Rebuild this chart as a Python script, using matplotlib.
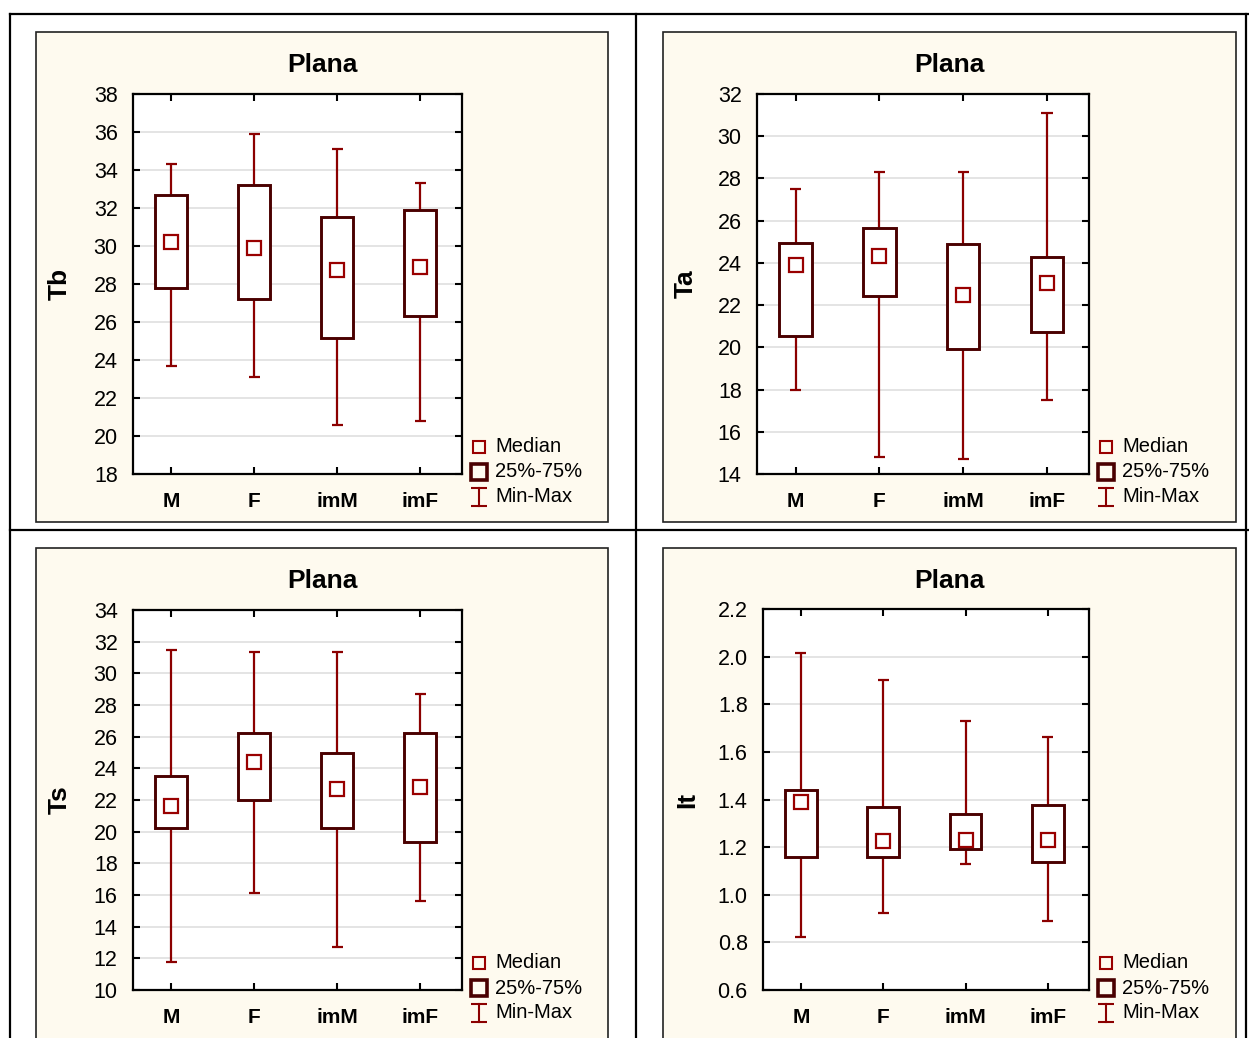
import matplotlib
matplotlib.use('Agg')
import matplotlib.pyplot as plt
from matplotlib.patches import Rectangle
from matplotlib.lines import Line2D

plt.rcParams['font.family'] = ['Liberation Sans', 'DejaVu Sans']

W, H = 1249, 1038

cats = ['M', 'F', 'imM', 'imF']

# Tb
tb_min = [23.7, 23.1, 20.6, 20.8]
tb_q1 = [27.8, 27.2, 25.15, 26.33]
tb_med = [30.2, 29.88, 28.72, 28.88]
tb_q3 = [32.67, 33.2, 31.53, 31.88]
tb_max = [34.3, 35.9, 35.1, 33.3]

# Ta
ta_min = [18.0, 14.8, 14.7, 17.5]
ta_q1 = [20.54, 22.45, 19.94, 20.74]
ta_med = [23.88, 24.34, 22.49, 23.05]
ta_q3 = [24.94, 25.67, 24.9, 24.28]
ta_max = [27.5, 28.3, 28.3, 31.1]

# Ts
ts_min = [11.76, 16.1, 12.69, 15.6]
ts_q1 = [20.23, 22.0, 20.23, 19.32]
ts_med = [21.64, 24.4, 22.69, 22.8]
ts_q3 = [23.51, 26.21, 24.95, 26.21]
ts_max = [31.47, 31.37, 31.37, 28.67]

# It
it_min = [0.824, 0.922, 1.128, 0.89]
it_q1 = [1.16, 1.16, 1.193, 1.139]
it_med = [1.389, 1.226, 1.232, 1.232]
it_q3 = [1.44, 1.368, 1.339, 1.377]
it_max = [2.014, 1.90, 1.731, 1.664]

BOX_EDGE = '#4a0000'
WHISK = '#8b0000'
MED = '#990000'
CREAM = '#fefaef'


def fx(px):
    return px / W


def fy(py):
    return 1 - py / H


fig = plt.figure(figsize=(W / 100, H / 100), dpi=100)

# table grid of the document
for x in (10, 636, 1246):
    fig.add_artist(Line2D([fx(x)] * 2, [fy(14), 0], color='black', lw=1.6))
for y in (14, 530):
    fig.add_artist(Line2D([fx(10), 1], [fy(y)] * 2, color='black', lw=1.6))


def draw_panel(panel, axbox, label_dx, ylabel, ylim, yticks, fmt, mins, q1, med, q3, maxs):
    x0, y0, x1, y1 = panel
    fig.add_artist(Rectangle((fx(x0), fy(y1)), fx(x1) - fx(x0), fy(y0) - fy(y1),
                             transform=fig.transFigure, facecolor=CREAM,
                             edgecolor='#222222', lw=1.2, zorder=0))
    fig.text(fx((x0 + x1) / 2), fy(y0 + 33), 'Plana', ha='center', va='center',
             fontsize=19, fontweight='bold')

    a0, b0, a1, b1 = axbox
    w = a1 - a0
    h = b1 - b0
    ax = fig.add_axes([fx(a0), fy(b1), fx(a1) - fx(a0), fy(b0) - fy(b1)])
    ax.set_facecolor('white')
    pos = list(range(len(cats)))

    ax.vlines(pos, mins, maxs, color=WHISK, lw=1.6, zorder=2)
    ax.hlines(mins, [p - 0.068 for p in pos], [p + 0.068 for p in pos], color=WHISK, lw=1.6, zorder=2)
    ax.hlines(maxs, [p - 0.068 for p in pos], [p + 0.068 for p in pos], color=WHISK, lw=1.6, zorder=2)
    ax.bar(pos, [b - a for a, b in zip(q1, q3)], bottom=q1, width=0.385,
           facecolor='white', edgecolor=BOX_EDGE, lw=2.1, zorder=3)
    ax.plot(pos, med, 's', ms=9.5, mfc='white', mec=MED, mew=1.6, ls='none', zorder=4)

    ax.set_xlim(-0.46, 3.5)
    ax.set_ylim(*ylim)
    ax.set_yticks(yticks)
    ax.set_yticklabels([fmt.format(t) for t in yticks])
    ax.set_xticks(pos)
    ax.set_xticklabels(cats, fontweight='bold', fontsize=15)
    ax.grid(axis='y', color='#e2e2e2', lw=1.3, zorder=0)
    ax.set_axisbelow(True)
    ax.tick_params(direction='in', length=5, width=1.5, top=True, right=True, labelsize=15.5, pad=11)
    ax.tick_params(axis='x', labelsize=15, pad=13)
    for s in ax.spines.values():
        s.set_linewidth(1.6)
        s.set_color('black')
    ax.set_ylabel(ylabel, fontsize=19, fontweight='bold')
    ax.yaxis.set_label_coords(label_dx / w, 0.5)

    # legend, rows placed in pixels relative to the bottom spine
    mx = 1 + 17 / w
    tx = 1 + 33 / w
    kw = dict(transform=ax.transAxes, clip_on=False)
    r1, r2, r3 = 27 / h, 2 / h, -23 / h
    ax.plot([mx], [r1], 's', ms=8.5, mfc='none', mec=MED, mew=1.5, **kw)
    ax.plot([mx], [r2], 's', ms=11.5, mfc='none', mec=BOX_EDGE, mew=2.6, **kw)
    ax.plot([mx, mx], [r3 + 9 / h, r3 - 9 / h], color=WHISK, lw=1.5, marker='_', ms=11, mew=1.5, **kw)
    for yy, txt in ((r1, 'Median'), (r2, '25%-75%'), (r3, 'Min-Max')):
        ax.text(tx, yy, txt, fontsize=14.5, va='center', ha='left', **kw)
    return ax


draw_panel((36, 32, 608, 522), (133, 94, 462, 474), -61, 'Tb', (18, 38),
           list(range(18, 39, 2)), '{:d}', tb_min, tb_q1, tb_med, tb_q3, tb_max)
draw_panel((663, 32, 1236, 522), (757, 94, 1089, 474), -59, 'Ta', (14, 32),
           list(range(14, 33, 2)), '{:d}', ta_min, ta_q1, ta_med, ta_q3, ta_max)
draw_panel((36, 548, 608, 1050), (133, 610, 462, 990), -61, 'Ts', (10, 34),
           list(range(10, 35, 2)), '{:d}', ts_min, ts_q1, ts_med, ts_q3, ts_max)
draw_panel((663, 548, 1236, 1050), (763, 609, 1089, 990), -64, 'It', (0.6, 2.2),
           [0.6, 0.8, 1.0, 1.2, 1.4, 1.6, 1.8, 2.0, 2.2], '{:.1f}', it_min, it_q1, it_med, it_q3, it_max)

fig.savefig('out.png', dpi=100, facecolor='white')
